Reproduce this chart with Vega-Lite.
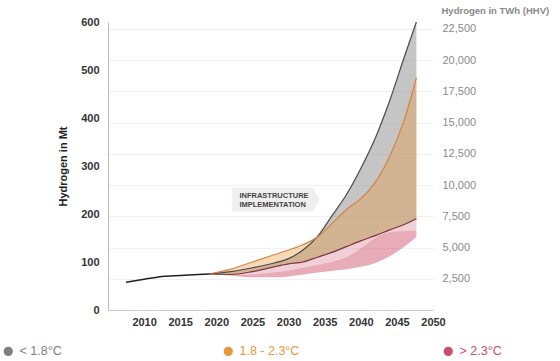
{
  "$schema": "https://vega.github.io/schema/vega-lite/v6.json",
  "width": 325,
  "height": 288,
  "padding": {"left": 2, "top": 5, "right": 5, "bottom": 2},
  "config": {
    "view": {"stroke": null},
    "font": "Liberation Sans",
    "legend": {
      "orient": "none",
      "legendX": -106,
      "legendY": 323,
      "direction": "horizontal",
      "columns": 3,
      "gridAlign": "all",
      "columnPadding": 142,
      "symbolType": "circle",
      "symbolSize": 85,
      "symbolOpacity": 1,
      "symbolStrokeWidth": 0,
      "labelFontSize": 12.5,
      "labelOffset": 5,
      "labelBaseline": "middle"
    }
  },
  "datasets": {
    "bands": [
      {"band": "g", "group": "< 1.8°C", "year": 2019, "lo": 75, "hi": 75},
      {"band": "g", "group": "< 1.8°C", "year": 2022, "lo": 74, "hi": 80},
      {"band": "g", "group": "< 1.8°C", "year": 2025, "lo": 80, "hi": 88},
      {"band": "g", "group": "< 1.8°C", "year": 2028, "lo": 90, "hi": 98},
      {"band": "g", "group": "< 1.8°C", "year": 2030, "lo": 96, "hi": 107},
      {"band": "g", "group": "< 1.8°C", "year": 2032, "lo": 100, "hi": 125},
      {"band": "g", "group": "< 1.8°C", "year": 2034, "lo": 110, "hi": 153},
      {"band": "g", "group": "< 1.8°C", "year": 2036, "lo": 120, "hi": 196},
      {"band": "g", "group": "< 1.8°C", "year": 2038, "lo": 132, "hi": 240},
      {"band": "g", "group": "< 1.8°C", "year": 2040, "lo": 144, "hi": 295},
      {"band": "g", "group": "< 1.8°C", "year": 2042, "lo": 155, "hi": 358},
      {"band": "g", "group": "< 1.8°C", "year": 2044, "lo": 167, "hi": 436},
      {"band": "g", "group": "< 1.8°C", "year": 2046, "lo": 178, "hi": 526},
      {"band": "g", "group": "< 1.8°C", "year": 2047.7, "lo": 190, "hi": 600},
      {"band": "o", "group": "1.8 - 2.3°C", "year": 2019, "lo": 75, "hi": 75},
      {"band": "o", "group": "1.8 - 2.3°C", "year": 2022, "lo": 74, "hi": 85},
      {"band": "o", "group": "1.8 - 2.3°C", "year": 2025, "lo": 80, "hi": 100},
      {"band": "o", "group": "1.8 - 2.3°C", "year": 2028, "lo": 90, "hi": 115},
      {"band": "o", "group": "1.8 - 2.3°C", "year": 2030, "lo": 96, "hi": 125},
      {"band": "o", "group": "1.8 - 2.3°C", "year": 2032, "lo": 100, "hi": 136},
      {"band": "o", "group": "1.8 - 2.3°C", "year": 2034, "lo": 110, "hi": 152},
      {"band": "o", "group": "1.8 - 2.3°C", "year": 2036, "lo": 120, "hi": 180},
      {"band": "o", "group": "1.8 - 2.3°C", "year": 2038, "lo": 132, "hi": 209},
      {"band": "o", "group": "1.8 - 2.3°C", "year": 2040, "lo": 144, "hi": 232},
      {"band": "o", "group": "1.8 - 2.3°C", "year": 2042, "lo": 155, "hi": 266},
      {"band": "o", "group": "1.8 - 2.3°C", "year": 2044, "lo": 167, "hi": 320},
      {"band": "o", "group": "1.8 - 2.3°C", "year": 2046, "lo": 178, "hi": 395},
      {"band": "o", "group": "1.8 - 2.3°C", "year": 2047.7, "lo": 190, "hi": 484},
      {"band": "p1", "group": "> 2.3°C", "year": 2019, "lo": 75, "hi": 75},
      {"band": "p1", "group": "> 2.3°C", "year": 2022, "lo": 72, "hi": 74},
      {"band": "p1", "group": "> 2.3°C", "year": 2025, "lo": 68, "hi": 80},
      {"band": "p1", "group": "> 2.3°C", "year": 2028, "lo": 68, "hi": 90},
      {"band": "p1", "group": "> 2.3°C", "year": 2030, "lo": 70, "hi": 96},
      {"band": "p1", "group": "> 2.3°C", "year": 2032, "lo": 74, "hi": 100},
      {"band": "p1", "group": "> 2.3°C", "year": 2034, "lo": 78, "hi": 110},
      {"band": "p1", "group": "> 2.3°C", "year": 2036, "lo": 82, "hi": 120},
      {"band": "p1", "group": "> 2.3°C", "year": 2038, "lo": 85, "hi": 132},
      {"band": "p1", "group": "> 2.3°C", "year": 2040, "lo": 90, "hi": 144},
      {"band": "p1", "group": "> 2.3°C", "year": 2042, "lo": 98, "hi": 155},
      {"band": "p1", "group": "> 2.3°C", "year": 2044, "lo": 112, "hi": 167},
      {"band": "p1", "group": "> 2.3°C", "year": 2046, "lo": 132, "hi": 178},
      {"band": "p1", "group": "> 2.3°C", "year": 2047.7, "lo": 152, "hi": 190},
      {"band": "p2", "group": "> 2.3°C", "year": 2019, "lo": 75, "hi": 75},
      {"band": "p2", "group": "> 2.3°C", "year": 2022, "lo": 72, "hi": 73},
      {"band": "p2", "group": "> 2.3°C", "year": 2025, "lo": 68, "hi": 74},
      {"band": "p2", "group": "> 2.3°C", "year": 2028, "lo": 68, "hi": 78},
      {"band": "p2", "group": "> 2.3°C", "year": 2030, "lo": 70, "hi": 82},
      {"band": "p2", "group": "> 2.3°C", "year": 2032, "lo": 74, "hi": 88},
      {"band": "p2", "group": "> 2.3°C", "year": 2034, "lo": 78, "hi": 94},
      {"band": "p2", "group": "> 2.3°C", "year": 2036, "lo": 82, "hi": 100},
      {"band": "p2", "group": "> 2.3°C", "year": 2038, "lo": 85, "hi": 110},
      {"band": "p2", "group": "> 2.3°C", "year": 2040, "lo": 90, "hi": 128},
      {"band": "p2", "group": "> 2.3°C", "year": 2042, "lo": 98, "hi": 150},
      {"band": "p2", "group": "> 2.3°C", "year": 2044, "lo": 112, "hi": 162},
      {"band": "p2", "group": "> 2.3°C", "year": 2046, "lo": 132, "hi": 164},
      {"band": "p2", "group": "> 2.3°C", "year": 2047.7, "lo": 152, "hi": 165}
    ],
    "history": [
      {"year": 2007.5, "hi": 58},
      {"year": 2010, "hi": 64},
      {"year": 2012.5, "hi": 70},
      {"year": 2015, "hi": 72},
      {"year": 2017.5, "hi": 74},
      {"year": 2019, "hi": 75}
    ],
    "labelbox": [
      {"year": 2022.2, "lo": 205, "hi": 255},
      {"year": 2033.4, "lo": 205, "hi": 255},
      {"year": 2034.3, "lo": 230, "hi": 230}
    ],
    "labeltext": [
      {"year": 2023.2, "hi": 238, "text": "INFRASTRUCTURE"},
      {"year": 2023.2, "hi": 219, "text": "IMPLEMENTATION"}
    ]
  },
  "layer": [
    {
      "encoding": {
        "x": {
          "field": "year",
          "type": "quantitative",
          "scale": {"domain": [2005, 2050], "nice": false, "zero": false},
          "axis": {
            "values": [2010, 2015, 2020, 2025, 2030, 2035, 2040, 2045, 2050],
            "format": "d",
            "title": null,
            "grid": false,
            "ticks": false,
            "labelOverlap": false,
            "labelFlush": false,
            "domainColor": "#cccccc",
            "labelPadding": 6,
            "labelFontSize": 11,
            "labelFontWeight": "bold",
            "labelColor": "#333333"
          }
        },
        "y": {
          "field": "hi",
          "type": "quantitative",
          "scale": {"domain": [0, 600], "nice": false},
          "axis": {
            "values": [0, 100, 200, 300, 400, 500, 600],
            "title": "Hydrogen in Mt",
            "grid": false,
            "ticks": false,
            "labelOverlap": false,
            "labelFlush": false,
            "domainColor": "#bbbbbb",
            "labelPadding": 9,
            "labelFontSize": 11,
            "labelFontWeight": "bold",
            "labelColor": "#333333",
            "titleFontSize": 11,
            "titleFontWeight": "bold",
            "titleColor": "#222222",
            "titlePadding": 12
          }
        }
      },
      "layer": [
        {
          "data": {"name": "labelbox"},
          "mark": {"type": "area", "color": "#efefef", "interpolate": "linear"},
          "encoding": {"y2": {"field": "lo"}}
        },
        {
          "data": {"name": "labeltext"},
          "mark": {"type": "text", "align": "left", "baseline": "middle", "fontSize": 7.5, "fontWeight": "bold", "color": "#444444"},
          "encoding": {"text": {"field": "text"}}
        },
        {
          "data": {"name": "bands"},
          "mark": {"type": "area", "interpolate": "monotone"},
          "encoding": {
            "y2": {"field": "lo"},
            "detail": {"field": "band"},
            "fill": {
              "field": "group",
              "type": "nominal",
              "scale": {"domain": ["< 1.8°C", "1.8 - 2.3°C", "> 2.3°C"], "range": ["#7f7f7f", "#e8973a", "#cc4d68"]},
              "legend": {
                "title": null,
                "encode": {"labels": {"update": {"fill": {"scale": "fill", "field": "value"}}}}
              }
            },
            "fillOpacity": {
              "field": "group",
              "type": "nominal",
              "scale": {"domain": ["< 1.8°C", "1.8 - 2.3°C", "> 2.3°C"], "range": [0.45, 0.27, 0.42]},
              "legend": null
            }
          }
        },
        {
          "data": {"name": "bands"},
          "transform": [{"filter": "datum.band != 'p2'"}],
          "mark": {"type": "line", "interpolate": "monotone", "strokeWidth": 1.2},
          "encoding": {
            "stroke": {
              "field": "band",
              "type": "nominal",
              "scale": {"domain": ["g", "o", "p1"], "range": ["#4a4a4a", "#d4843f", "#7d3444"]},
              "legend": null
            }
          }
        },
        {
          "data": {"name": "history"},
          "mark": {"type": "line", "interpolate": "monotone", "strokeWidth": 1.5, "color": "#222222"},
          "encoding": {}
        }
      ]
    },
    {
      "data": {"values": [{"twh": 0}, {"twh": 22500}]},
      "mark": {"type": "point", "opacity": 0},
      "encoding": {
        "y": {
          "field": "twh",
          "type": "quantitative",
          "scale": {"domain": [0, 23040], "nice": false},
          "axis": {
            "orient": "right",
            "values": [2500, 5000, 7500, 10000, 12500, 15000, 17500, 20000, 22500],
            "format": ",.0f",
            "grid": true,
            "gridColor": "#f0f0f0",
            "domain": false,
            "ticks": false,
            "labelOverlap": false,
            "labelFlush": false,
            "labelPadding": 9,
            "labelFontSize": 11,
            "labelColor": "#8a8a8a",
            "title": "Hydrogen in TWh (HHV)",
            "titleAngle": 0,
            "titleAlign": "left",
            "titleBaseline": "alphabetic",
            "titleX": 8,
            "titleY": -9,
            "titleFontSize": 9.5,
            "titleFontWeight": "bold",
            "titleColor": "#8a8a8a"
          }
        }
      }
    }
  ],
  "resolve": {"scale": {"y": "independent"}}
}
